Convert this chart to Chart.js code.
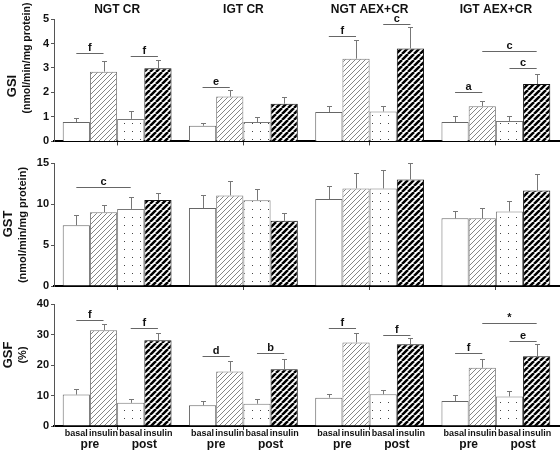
<!DOCTYPE html>
<html>
<head>
<meta charset="utf-8">
<script src="https://cdn.jsdelivr.net/npm/chart.js@4.4.0/dist/chart.umd.min.js"></script>
<style>
  html, body { margin: 0; padding: 0; background: #fff; }
  #wrap { position: relative; width: 560px; height: 450px; }
  #wrap canvas { position: absolute; left: 0; }
</style>
</head>
<body>
<div id="wrap">
  <canvas id="cGSI" width="560" height="150" style="top:0"></canvas>
  <canvas id="cGST" width="560" height="145" style="top:150px"></canvas>
  <canvas id="cGSF" width="560" height="155" style="top:295px"></canvas>
</div>
<script>
const FONT = "Arial, 'Liberation Sans', sans-serif";
Chart.defaults.font.family = FONT;

const groups = ["NGT CR", "IGT CR", "NGT AEX+CR", "IGT AEX+CR"];
const seriesNames = ["pre basal", "pre insulin", "post basal", "post insulin"];
const barLabels = ["basal", "insulin", "basal", "insulin"];
const phaseLabels = ["pre", "post"];

// rows = series (pre basal, pre insulin, post basal, post insulin), cols = groups
const gsiMean = [
  [0.79, 0.64, 1.20, 0.79],
  [2.85, 1.83, 3.38, 1.44],
  [0.92, 0.79, 1.22, 0.83],
  [2.99, 1.54, 3.80, 2.34]
];
const gsiErr = [
  [0.18, 0.11, 0.25, 0.23],
  [0.44, 0.25, 0.76, 0.22],
  [0.33, 0.20, 0.23, 0.19],
  [0.34, 0.29, 0.86, 0.42]
];
const gsiTicks = [0, 1, 2, 3, 4, 5];

const gstMean = [
  [7.4, 9.5, 10.6, 8.25],
  [9.0, 11.05, 11.9, 8.25],
  [9.4, 10.45, 11.9, 9.1],
  [10.5, 7.95, 13.0, 11.65]
];
const gstErr = [
  [1.2, 1.55, 1.55, 0.95],
  [0.9, 1.7, 1.85, 1.25],
  [1.4, 1.35, 2.2, 1.3],
  [0.8, 1.0, 2.05, 2.0]
];
const gstTicks = [0, 5, 10, 15];

const gsfMean = [
  [10.3, 6.8, 9.3, 8.2],
  [31.4, 17.9, 27.4, 19.1],
  [7.6, 7.3, 10.4, 9.7],
  [28.1, 18.6, 26.8, 22.9]
];
const gsfErr = [
  [1.7, 1.5, 1.2, 1.85],
  [2.1, 3.3, 3.2, 2.85],
  [1.3, 1.55, 1.4, 1.85],
  [2.3, 3.4, 2.2, 3.85]
];
const gsfTicks = [0, 10, 20, 30, 40];

// significance marks: [group, from series, to series, y value, mark]
const gsiSig = [
  [0, 0, 1, 3.62, "f"], [0, 2, 3, 3.47, "f"],
  [1, 0, 1, 2.22, "e"],
  [2, 0, 1, 4.31, "f"], [2, 2, 3, 4.8, "c"],
  [3, 0, 1, 2.0, "a"], [3, 1, 3, 3.68, "c"], [3, 2, 3, 3.0, "c"]
];
const gstSig = [
  [0, 0, 2, 12.05, "c"]
];
const gsfSig = [
  [0, 0, 1, 34.6, "f"], [0, 2, 3, 32.2, "f"],
  [1, 0, 1, 22.9, "d"], [1, 2, 3, 23.8, "b"],
  [2, 0, 1, 32.0, "f"], [2, 2, 3, 30.0, "f"],
  [3, 0, 1, 23.8, "f"], [3, 1, 3, 33.7, "*"], [3, 2, 3, 27.9, "e"]
];

const gsiTitle = ["GSI", "(nmol/min/mg protein)"];
const gstTitle = ["GST", "(nmol/min/mg protein)"];
const gsfTitle = ["GSF", "(%)"];

function makePattern(kind) {
  const c = document.createElement("canvas");
  const g = c.getContext("2d");
  if (kind === "dots") {
    c.width = 8; c.height = 8;
    g.fillStyle = "#fff"; g.fillRect(0, 0, 8, 8);
    g.fillStyle = "#444"; g.fillRect(4, 3, 1, 1);
  } else {
    const n = kind === "thin" ? 5 : 6;
    c.width = n; c.height = n;
    g.fillStyle = "#fff"; g.fillRect(0, 0, n, n);
    g.strokeStyle = kind === "thin" ? "#777" : "#000";
    g.lineWidth = kind === "thin" ? 0.9 : 2.5;
    g.beginPath();
    for (const o of [-n, 0, n]) { g.moveTo(o, n); g.lineTo(o + n, 0); }
    g.stroke();
  }
  return g.createPattern(c, "repeat");
}
const fills = ["#fff", makePattern("thin"), makePattern("dots"), makePattern("heavy")];
const edges = ["#666", "#777", "#777", "#111"];

// upward error bars with a small cap
const errorBars = {
  id: "errorBars",
  afterDatasetsDraw(chart) {
    const { ctx, scales: { y } } = chart;
    ctx.save();
    ctx.strokeStyle = "#777";
    ctx.lineWidth = 1;
    chart.data.datasets.forEach((ds, i) => {
      chart.getDatasetMeta(i).data.forEach((bar, j) => {
        const top = Math.round(y.getPixelForValue(ds.data[j] + ds.err[j])) + 0.5;
        const x = Math.round(bar.x) + 0.5;
        ctx.beginPath();
        ctx.moveTo(x, bar.y);
        ctx.lineTo(x, top);
        ctx.moveTo(x - 2.5, top);
        ctx.lineTo(x + 2.5, top);
        ctx.stroke();
      });
    });
    ctx.restore();
  }
};

function sigMarks(list) {
  return {
    id: "sigMarks",
    afterDatasetsDraw(chart) {
      const { ctx, scales: { y } } = chart;
      ctx.save();
      ctx.strokeStyle = "#666";
      ctx.lineWidth = 1;
      ctx.fillStyle = "#111";
      ctx.font = "bold 11px " + FONT;
      ctx.textAlign = "center";
      ctx.textBaseline = "alphabetic";
      list.forEach(([g, a, b, v, mark]) => {
        const x1 = chart.getDatasetMeta(a).data[g].x;
        const x2 = chart.getDatasetMeta(b).data[g].x;
        const yy = Math.round(y.getPixelForValue(v)) + 0.5;
        ctx.beginPath();
        ctx.moveTo(x1, yy);
        ctx.lineTo(x2, yy);
        ctx.stroke();
        ctx.fillText(mark, (x1 + x2) / 2, yy - 2.5);
      });
      ctx.restore();
    }
  };
}

// rotated y titles: [text, x, y, size]
function sideTitles(lines) {
  return {
    id: "sideTitles",
    afterDraw(chart) {
      const ctx = chart.ctx;
      lines.forEach(([text, x, y, size]) => {
        ctx.save();
        ctx.translate(x, y);
        ctx.rotate(-Math.PI / 2);
        ctx.font = `bold ${size}px ${FONT}`;
        ctx.fillStyle = "#111";
        ctx.textAlign = "center";
        ctx.textBaseline = "middle";
        ctx.fillText(text, 0, 0);
        ctx.restore();
      });
    }
  };
}

const groupTitles = {
  id: "groupTitles",
  afterDraw(chart) {
    const { ctx, chartArea, scales: { x } } = chart;
    ctx.save();
    ctx.font = "bold 12px " + FONT;
    ctx.fillStyle = "#111";
    ctx.textAlign = "center";
    ctx.textBaseline = "middle";
    groups.forEach((name, i) => ctx.fillText(name, x.getPixelForValue(i), chartArea.top - 9.5));
    ctx.restore();
  }
};

const barCaptions = {
  id: "barCaptions",
  afterDraw(chart) {
    const { ctx, chartArea } = chart;
    ctx.save();
    ctx.fillStyle = "#111";
    ctx.textAlign = "center";
    ctx.textBaseline = "middle";
    groups.forEach((_, g) => {
      const xs = barLabels.map((_, i) => chart.getDatasetMeta(i).data[g].x);
      ctx.font = "bold 9px " + FONT;
      barLabels.forEach((t, i) => ctx.fillText(t, xs[i], chartArea.bottom + 8));
      ctx.font = "bold 12px " + FONT;
      ctx.fillText(phaseLabels[0], (xs[0] + xs[1]) / 2, chartArea.bottom + 19);
      ctx.fillText(phaseLabels[1], (xs[2] + xs[3]) / 2, chartArea.bottom + 19);
    });
    ctx.restore();
  }
};

function buildChart(id, means, errs, yTicks, sig, padTop, xHeight, extra) {
  return new Chart(document.getElementById(id), {
    type: "bar",
    data: {
      labels: groups,
      datasets: means.map((row, i) => ({
        label: seriesNames[i],
        data: row,
        err: errs[i],
        backgroundColor: fills[i],
        borderColor: edges[i],
        borderWidth: 1,
        categoryPercentage: 0.862,
        barPercentage: 1
      }))
    },
    options: {
      responsive: false,
      animation: false,
      events: [],
      layout: { padding: { top: padTop, left: 0, right: 1, bottom: 0 } },
      plugins: { legend: { display: false }, tooltip: { enabled: false } },
      scales: {
        x: {
          grid: { display: true, drawOnChartArea: false, offset: false, tickLength: 4, color: "#444" },
          border: { color: "#000", width: 2 },
          ticks: { display: false },
          afterFit: s => { s.height = xHeight; }
        },
        y: {
          min: 0,
          max: yTicks[yTicks.length - 1],
          afterBuildTicks: s => { s.ticks = yTicks.map(v => ({ value: v })); },
          grid: { drawOnChartArea: false, tickLength: 3, color: "#555" },
          border: { color: "#555", width: 1 },
          ticks: { color: "#111", font: { size: 11, weight: "bold" }, padding: 2 },
          afterFit: s => { s.width = 54; }
        }
      }
    },
    plugins: [errorBars, sigMarks(sig), ...extra]
  });
}

buildChart("cGSI", gsiMean, gsiErr, gsiTicks, gsiSig, 19, 8, [
  groupTitles,
  sideTitles([[gsiTitle[0], 12, 86, 13], [gsiTitle[1], 27, 58, 10.5]])
]);
buildChart("cGST", gstMean, gstErr, gstTicks, gstSig, 13, 9, [
  sideTitles([[gstTitle[0], 8, 74, 13], [gstTitle[1], 23, 75, 11]])
]);
buildChart("cGSF", gsfMean, gsfErr, gsfTicks, gsfSig, 9, 24, [
  barCaptions,
  sideTitles([[gsfTitle[0], 8, 60, 13], [gsfTitle[1], 23, 60, 11]])
]);
</script>
</body>
</html>
